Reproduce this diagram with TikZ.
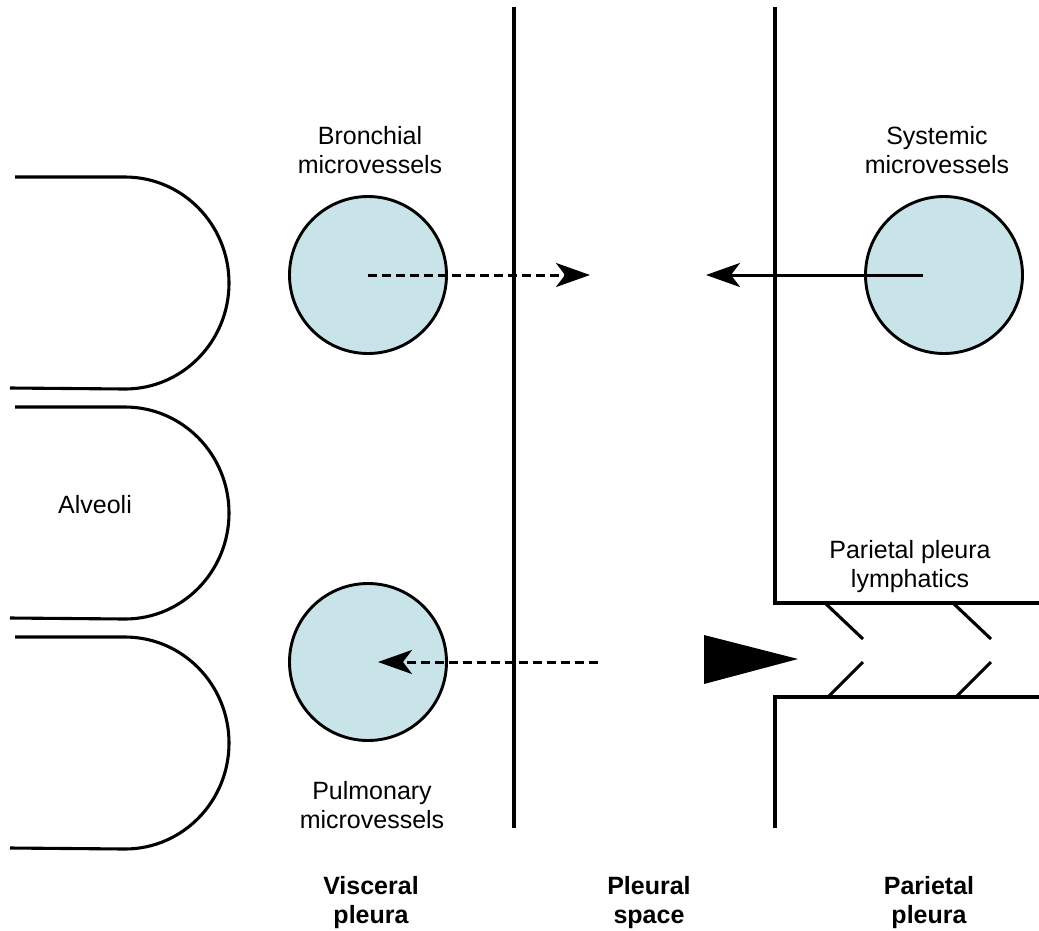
\documentclass[tikz,border=0pt]{standalone}
\usepackage{fontspec}
\setmainfont{Liberation Sans}
\usetikzlibrary{arrows.meta}

\definecolor{vesselblue}{RGB}{200,228,233}

\begin{document}
\begin{tikzpicture}[
  x=1pt, y=-1pt,
  wall/.style={line width=3.1pt},
  vessel/.style={circle, draw, line width=2.9pt, fill=vesselblue, minimum size=157pt, inner sep=0pt},
  flow/.style={line width=3pt, -{Stealth[length=34pt, width=24pt, inset=9pt]}},
  seep/.style={flow, dash pattern=on 9pt off 5pt},
  txt/.style={align=center, font=\fontsize{25}{29}\selectfont},
  heading/.style={align=center, font=\fontsize{25}{29}\selectfont\bfseries}
]
\useasboundingbox (0,0) rectangle (1039,930);

% alveoli on the left
\foreach \cy in {282,512,742}
  \draw[wall] (15,\cy-105) -- (125,\cy-105)
    arc[start angle=90, end angle=-90, x radius=104pt, y radius=106pt] -- (10,\cy+106);

% visceral and parietal pleura
\draw[wall] (514,7) -- (514,828);
\draw[wall] (775,7) -- (775,603) -- (1039,603);
\draw[wall] (1039,697) -- (775,697) -- (775,828);

% lymphatic valves
\foreach \vx in {825,953} {
  \draw[wall] (\vx,603) -- ++(38,36);
  \draw[wall] (\vx+3,697) -- ++(35,-35);
}
\fill (704,635) -- (798,659) -- (704,684) -- cycle;

% microvessels
\node[vessel] (bronch) at (368,275) {};
\node[vessel] (sys) at (944,275) {};
\node[vessel] (pulm) at (368,662) {};

\coordinate (bronchtip) at (590,275);
\coordinate (sysfrom) at (923,275);
\coordinate (systip) at (706,275);
\coordinate (pulmfrom) at (598,662);
\coordinate (pulmtip) at (378,662);

\draw[seep] (bronch.center) -- (bronchtip);
\draw[flow] (sysfrom) -- (systip);
\draw[seep] (pulmfrom) -- (pulmtip);

% labels
\node[txt] (bronchlbl) at (370,150) {Bronchial\\microvessels};
\node[txt] (syslbl) at (937,150) {Systemic\\microvessels};
\node[txt] (alv) at (95,505) {Alveoli};
\node[txt] (lymph) at (910,567) {Parietal pleura\\lymphatics};
\node[txt] (pulmlbl) at (372,805) {Pulmonary\\microvessels};
\node[heading] (visc) at (371,903) {Visceral\\pleura};
\node[heading] (space) at (649,903) {Pleural\\space};
\node[heading] (pari) at (929,903) {Parietal\\pleura};

\end{tikzpicture}
\end{document}
